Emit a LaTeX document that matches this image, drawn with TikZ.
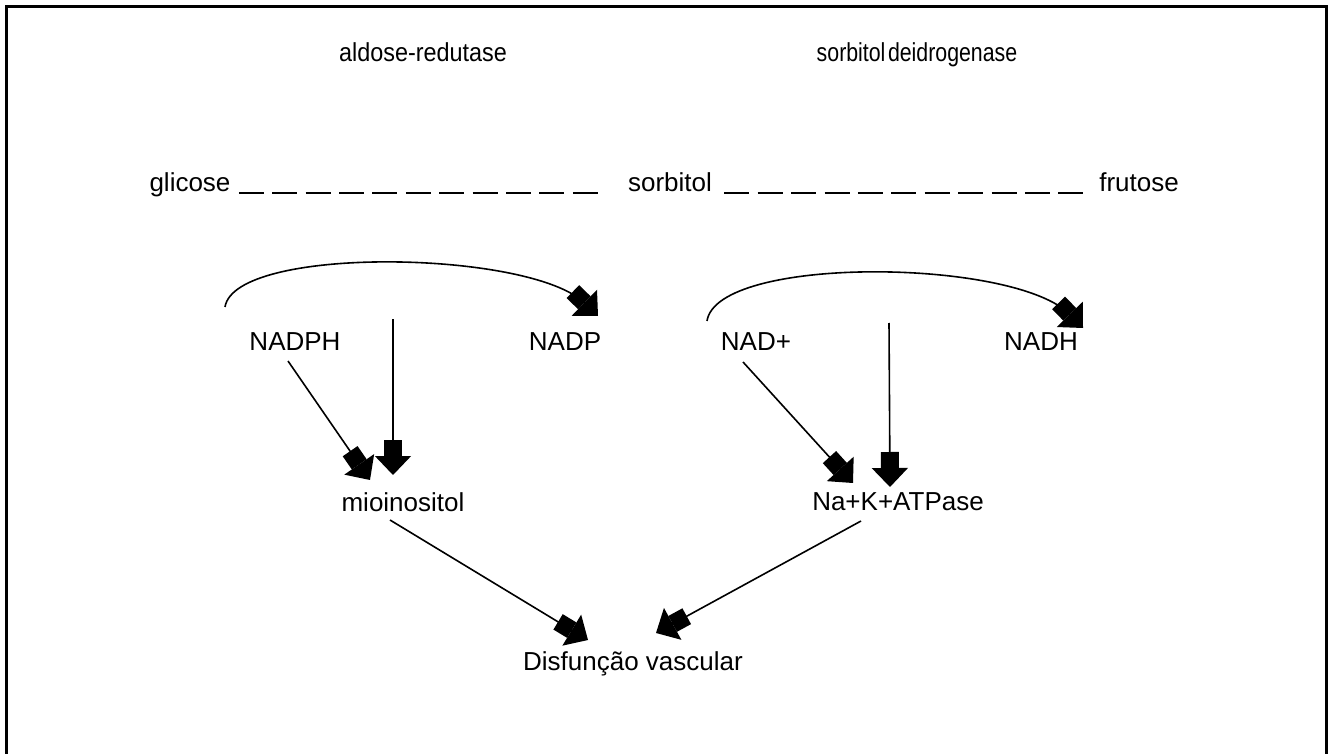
\documentclass[tikz,border=0pt]{standalone}
\usepackage{fontspec}
\setmainfont{Liberation Sans}
\newfontfamily\enzfont[FakeStretch=0.9]{Liberation Sans}
\newfontfamily\enzfontb[FakeStretch=0.82]{Liberation Sans}
\usepackage{tikz}
\usetikzlibrary{arrows.meta,calc}
\tikzset{
  lbl/.style={inner sep=0pt,anchor=base},
  fat/.style={line width=0.8pt,-{Rectangle[length=8pt,width=9pt]Triangle[length=9.5pt,width=18pt]}},
  dashrow/.style={line width=1.3pt,dash pattern=on 12.5pt off 4.2pt},
}

\begin{document}
\begin{tikzpicture}[x=0.5pt,y=-0.5pt,font=\fontsize{13}{15}\selectfont]
\clip (0,0) rectangle (1332,754);
\draw[line width=1.3pt] (6.5,760) -- (6.5,6.5) -- (1326.5,6.5) -- (1326.5,760);
% enzimas
\node[lbl,font=\fontsize{13}{15}\enzfont] (ar) at (423,62) {aldose-redutase};
\node[lbl,font=\fontsize{13}{15}\enzfontb] (sd) at (917,62) {sorbitol\hspace{0.1em}deidrogenase};
% via dos polióis
\foreach \nm/\lab/\px/\py in {%
  gli/glicose/190/192, sor/sorbitol/670/192, fru/frutose/1139/192,
  nph/NADPH/295/350, np/NADP/565/350, nad/NAD+/756/350, nadh/NADH/1041/350,
  mio/mioinositol/403/511, nak/Na+K+ATPase/898/510,
  dis/Disfunção vascular/633/670}{%
  \node[lbl] (\nm) at (\px,\py) {\lab};
}
\draw[dashrow] ($(gli.base east)+(8,1)$) -- ($(sor.base west)+(-30,1)$);
\draw[dashrow] ($(sor.base east)+(12,1)$) -- ($(fru.base west)+(-14,1)$);
% cofatores
\draw[fat] ($(nph.base)+(-70,-43)$) .. controls (235,245) and (530,250) .. ($(np.base)+(33,-34)$);
\draw[fat] ($(nad.base)+(-49,-29)$) .. controls (717,255) and (1015,258) .. ($(nadh.base)+(42,-22)$);
\coordinate (vL) at (393,319);
\coordinate (vR) at (889,323);
\draw[fat] (vL) -- ($(mio.base)+(-10,-36)$);
\draw[fat] (vR) -- ($(nak.base)+(-8,-23)$);
\draw[fat] ($(nph.base)+(-7,11)$) -- ($(mio.base)+(-33,-31)$);
\draw[fat] ($(nad.base)+(-13,12)$) -- ($(nak.base)+(-45,-27)$);
% disfunção
\draw[fat] ($(mio.base)+(-13,9)$) -- ($(dis.base)+(-45,-30)$);
\draw[fat] ($(nak.base)+(-37,11)$) -- ($(dis.base)+(23,-37)$);
\end{tikzpicture}
\end{document}
